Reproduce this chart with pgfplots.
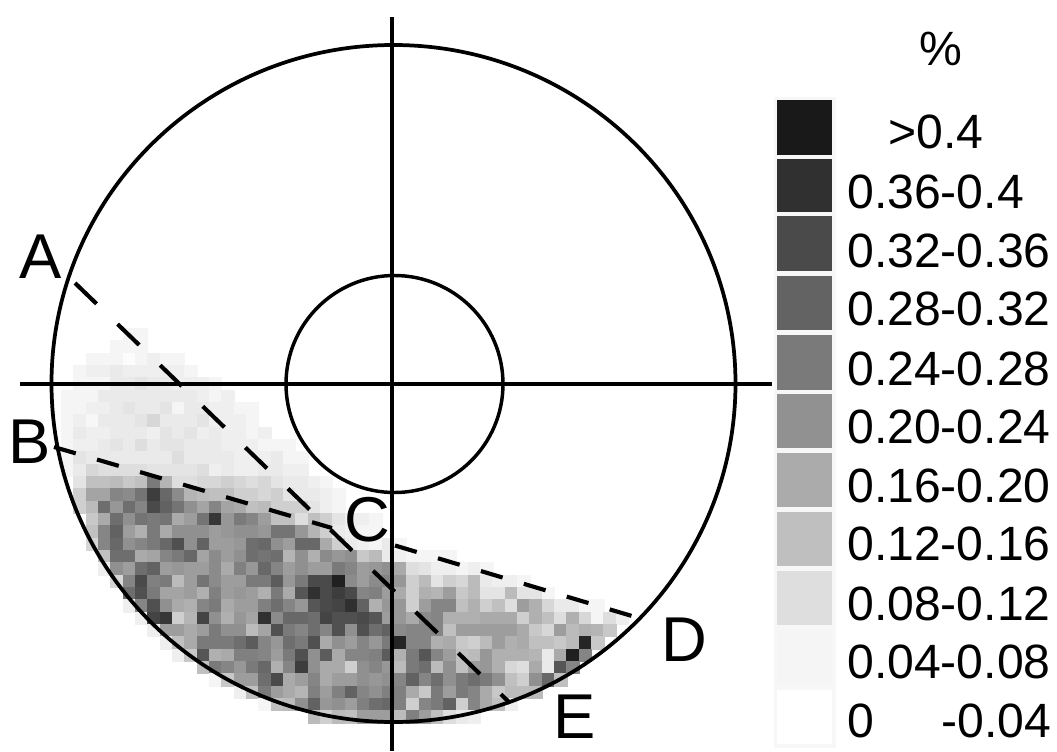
\documentclass[border=0pt]{standalone}
\usepackage{pgfplots}
\pgfplotsset{compat=1.18}
\usepackage{fontspec}
\setmainfont{Liberation Sans}
\pgfplotsset{colormap={lev}{rgb255=(255,255,255) rgb255=(245,245,245) rgb255=(222,222,222) rgb255=(192,192,192) rgb255=(170,170,170) rgb255=(144,144,144) rgb255=(122,122,122) rgb255=(98,98,98) rgb255=(74,74,74) rgb255=(48,48,48) rgb255=(26,26,26)}}
\pgfplotsset{pixelaxis/.style={scale only axis, width=792.75pt, height=563.25pt,
  xmin=0, xmax=1057, ymin=0, ymax=751, y dir=reverse, hide axis, clip=true,
  colormap name=lev, point meta min=2, point meta max=42}}
\newcount\cx
\def\allcells{}
% row, first column, values (percent x 100)
\def\R#1#2#3{\cx=#2\relax
  \pgfmathsetmacro\py{334.5+12.33*#1}%
  \pgfplotsforeachungrouped \cellval in {#3}{%
    \pgfmathsetmacro\px{67.47+12.33*\the\cx}%
    \xdef\allcells{\unexpanded\expandafter{\allcells}\px\space\py\space\cellval\noexpand\\}%
    \advance\cx by 1 }}
\R{0}{5}{6,6}
\R{1}{4}{6,6,6}
\R{2}{2}{6,6,6,3,6,7,6,6}
\R{3}{1}{6,7,7,8,7,7,7,7,7,6}
\R{4}{1}{6,6,6,8,8,9,8,8,7,7,7,6}
\R{5}{0}{6,6,6,8,8,8,8,8,8,8,8,7,6,7}
\R{6}{0}{6,6,7,7,8,9,8,8,9,6,8,8,7,7,6,6}
\R{7}{0}{6,7,5,8,8,8,9,11,8,8,8,9,7,7,7,6}
\R{8}{0}{6,8,7,7,8,8,8,7,9,8,9,7,8,7,7,6,7}
\R{9}{0}{6,7,7,8,9,8,10,8,9,9,8,8,8,7,7,7,6,6,6}
\R{10}{0}{6,9,8,8,8,8,8,8,8,10,8,8,8,8,7,7,7,8,6,6}
\R{11}{0}{6,8,11,10,10,10,10,9,9,9,9,10,7,8,7,7,8,8,7,7}
\R{12}{1}{9,14,14,15,13,14,26,16,10,10,11,11,12,11,10,11,9,8,8,7,6}
\R{13}{1}{12,19,19,24,23,27,36,29,23,16,15,14,14,12,12,11,12,9,8,8,7,6}
\R{14}{1}{12,15,28,21,28,24,34,30,27,22,19,24,19,18,14,15,12,12,12,9,7,6}
\R{15}{2}{13,18,28,22,27,26,27,18,20,27,37,21,26,24,20,14,14,10,14,12,9,7,7,6}
\R{16}{2}{14,24,30,20,17,26,18,22,22,22,20,21,22,22,21,27,27,21,16,12,8,7,6,6}
\R{17}{2}{11,24,29,22,24,26,29,33,22,30,20,20,21,28,29,22,20,29,29,18,12,8,7,6,8,6}
\R{18}{3}{14,28,28,18,19,24,26,29,19,23,20,22,28,27,28,16,22,17,23,21,22,13,15,8,7,6,6,6,6}
\R{19}{3}{7,22,20,28,30,20,21,20,20,23,18,25,21,29,24,20,22,20,20,26,24,20,21,22,18,10,9,7,7,6,7,6}
\R{20}{4}{11,24,34,25,26,15,20,27,23,20,20,26,26,31,21,26,34,34,41,23,20,23,24,21,12,15,9,12,11,15,8,7,7,6}
\R{21}{5}{28,33,26,19,19,20,17,25,20,21,20,17,26,18,32,38,34,36,34,24,25,20,18,12,17,16,20,13,15,9,9,15,9,9,6}
\R{22}{5}{7,24,33,22,18,17,24,26,18,20,20,25,28,24,21,32,34,35,38,30,17,21,21,12,20,24,24,14,17,12,14,10,20,17,11,8,8,6,6}
\R{23}{6}{7,35,37,12,16,35,22,17,21,19,38,23,29,29,28,35,33,33,34,32,20,21,18,23,24,17,17,17,18,18,18,12,17,14,10,17,11,6,10,7}
\R{24}{7}{7,20,20,18,20,26,22,22,15,19,33,26,24,28,24,33,22,33,28,30,23,24,24,24,14,20,20,20,20,20,18,13,11,20,15,17,16,13}
\R{25}{8}{7,14,18,26,26,26,28,31,24,21,28,26,33,18,22,20,24,21,26,40,24,24,17,18,13,12,15,20,17,18,14,14,13,15,40,13}
\R{26}{9}{7,13,32,17,18,25,25,24,20,26,33,22,31,18,24,24,25,31,17,26,32,24,20,14,15,21,17,17,17,16,8,18,41,24}
\R{27}{11}{14,26,24,21,26,29,17,24,36,22,18,18,12,22,24,21,15,26,28,15,22,14,20,21,17,11,10,18,8,32,24}
\R{28}{12}{6,13,20,20,28,34,18,20,24,18,20,20,22,21,22,24,30,24,28,22,26,28,26,22,14,12,22,29,14}
\R{29}{14}{7,14,26,20,18,16,25,20,25,30,24,22,25,25,18,13,26,20,26,24,18,13,15,15,15}
\R{30}{16}{6,14,15,22,30,21,22,20,25,28,29,25,12,24,26,30,12,24,18,14,7}
\R{31}{20}{15,12,15,14,20,20,20,15,25,20,14,10,8,7}
\newcommand\lab[3]{\node[anchor=base west, inner sep=0pt] at (axis cs:#1,#2) {\fontsize{36.1}{37}\selectfont #3};}
\newcommand\biglab[3]{\node[anchor=base west, inner sep=0pt] at (axis cs:#1,#2) {\fontsize{47.5}{48}\selectfont #3};}
\def\plotcells#1{\addplot[scatter, only marks, mark=square*, mark size=4.7pt,
  scatter/use mapped color={draw=mapped color, fill=mapped color}, point meta=explicit]
  table[x=x, y=y, meta=z, row sep=crcr] {x y z\\ #1};}
\begin{document}
\begin{tikzpicture}
\begin{axis}[pixelaxis]
\expandafter\plotcells\expandafter{\allcells}
\path (axis cs:0,0) rectangle (axis cs:1057,751);
\end{axis}
\begin{axis}[pixelaxis]
% cross lines and dashed boundaries
\addplot[black, line width=2.5pt] coordinates {(20,384) (772,384)};
\addplot[black, line width=2.5pt] coordinates {(392,17) (392,751)};
\addplot[black, line width=3.1pt, dash pattern=on 22.5pt off 21.9pt] coordinates {(75,283) (510,703)};
\addplot[black, line width=3.1pt, dash pattern=on 17pt off 16.6pt] coordinates {(54,447) (332,528)};
\addplot[black, line width=3.1pt, dash pattern=on 17pt off 16.6pt] coordinates {(395,545.5) (632,616)};
\draw[black, line width=2.8pt] (axis cs:393.5,383.5) ellipse [x radius=342, y radius=338.5];
\draw[black, line width=2.6pt] (axis cs:394.5,384) ellipse [x radius=108.5, y radius=108.5];
% legend
\fill[black!3] (axis cs:774,97) rectangle (axis cs:836,748);
\fill[white] (axis cs:777.3,690) rectangle (axis cs:831.7,744);
\fill[white!96!black] (axis cs:777.3,630) rectangle (axis cs:831.7,684);
\fill[white!87!black] (axis cs:777.3,571) rectangle (axis cs:831.7,625);
\fill[white!75!black] (axis cs:777.3,512) rectangle (axis cs:831.7,566);
\fill[white!67!black] (axis cs:777.3,453) rectangle (axis cs:831.7,507);
\fill[white!57!black] (axis cs:777.3,394) rectangle (axis cs:831.7,448);
\fill[white!48!black] (axis cs:777.3,335) rectangle (axis cs:831.7,390);
\fill[white!39!black] (axis cs:777.3,276) rectangle (axis cs:831.7,330);
\fill[white!29!black] (axis cs:777.3,216) rectangle (axis cs:831.7,271);
\fill[white!19!black] (axis cs:777.3,159) rectangle (axis cs:831.7,212);
\fill[white!10!black] (axis cs:777.3,100) rectangle (axis cs:831.7,155);
\lab{919}{65}{\%}
\lab{888}{148}{>0.4}
\lab{847}{208}{0.36-0.4}
\lab{847}{267}{0.32-0.36}
\lab{847}{325}{0.28-0.32}
\lab{847}{385}{0.24-0.28}
\lab{847}{443}{0.20-0.24}
\lab{847}{502}{0.16-0.20}
\lab{847}{560}{0.12-0.16}
\lab{847}{620}{0.08-0.12}
\lab{847}{678}{0.04-0.08}
\lab{847}{737}{0}
\lab{941}{737}{-0.04}
\biglab{19}{278}{A}
\biglab{8}{463}{B}
\biglab{344}{541}{C}
\biglab{661}{661}{D}
\biglab{553}{738}{E}
\end{axis}
\end{tikzpicture}
\end{document}
